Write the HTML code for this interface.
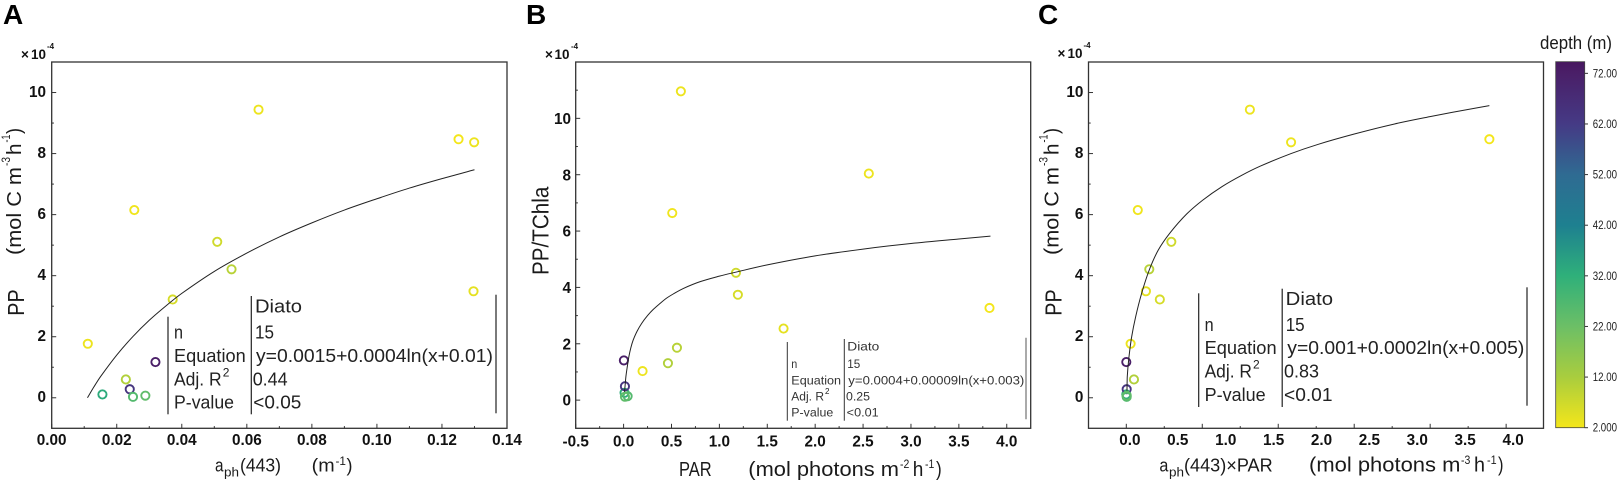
<!DOCTYPE html>
<html>
<head>
<meta charset="utf-8">
<title>Diato PP regressions</title>
<style>
html,body{margin:0;padding:0;background:#fff;}
svg{display:block;}
text{font-family:"Liberation Sans",sans-serif;fill:#111;}
.tick{font-weight:bold;font-size:15.3px;}
.panel{font-weight:bold;font-size:28px;fill:#000;}
.tb{font-size:18px;fill:#222;}
.tbs{font-size:12.3px;fill:#333;}
.t{font-size:20.5px;fill:#1a1a1a;}
.sup{font-size:12px;fill:#1a1a1a;}
.mul{font-weight:bold;font-size:13.5px;}
.mulsup{font-size:8px;font-weight:bold;}
.cb{font-size:12px;fill:#222;}
</style>
</head>
<body>
<svg id="chart" xmlns="http://www.w3.org/2000/svg" width="1617" height="481" viewBox="0 0 1617 481">
<rect x="0" y="0" width="1617" height="481" fill="#fff"/>
<defs id="defs"></defs>

<text class="panel" x="3" y="24">A</text>
<text class="panel" x="526" y="24">B</text>
<text class="panel" x="1038" y="24">C</text>

<g>
<text class="mul" x="21" y="59">×</text><text class="mul" x="31" y="59" textLength="15" lengthAdjust="spacingAndGlyphs">10</text><text class="mulsup" x="47" y="49">-4</text>
</g>
<g>
<text class="mul" x="545" y="59">×</text><text class="mul" x="554.5" y="59" textLength="15" lengthAdjust="spacingAndGlyphs">10</text><text class="mulsup" x="571" y="49">-4</text>
</g>
<g>
<text class="mul" x="1057.5" y="58">×</text><text class="mul" x="1067.5" y="58" textLength="15" lengthAdjust="spacingAndGlyphs">10</text><text class="mulsup" x="1083.5" y="48">-4</text>
</g>

<g transform="translate(0,0) rotate(-90)">
<text class="t" style="font-size:23px" x="-315.7" y="24" textLength="26.4" lengthAdjust="spacingAndGlyphs">PP</text>
<text class="t" x="-255" y="21" textLength="88" lengthAdjust="spacingAndGlyphs">(mol C m</text>
<text class="sup" x="-166" y="10" textLength="9" lengthAdjust="spacingAndGlyphs">-3</text>
<text class="t" x="-155" y="21" textLength="11.5" lengthAdjust="spacingAndGlyphs">h</text>
<text class="sup" x="-142.5" y="10" textLength="8" lengthAdjust="spacingAndGlyphs">-1</text>
<text class="t" x="-134" y="21" textLength="6" lengthAdjust="spacingAndGlyphs">)</text>
</g>
<g transform="rotate(-90)">
<text class="t" style="font-size:23px" x="-275" y="548.3" textLength="88.3" lengthAdjust="spacingAndGlyphs">PP/TChla</text>
</g>
<g transform="translate(1037.5,0) rotate(-90)">
<text class="t" style="font-size:23px" x="-315.7" y="24" textLength="26.4" lengthAdjust="spacingAndGlyphs">PP</text>
<text class="t" x="-255" y="21" textLength="88" lengthAdjust="spacingAndGlyphs">(mol C m</text>
<text class="sup" x="-166" y="10" textLength="9" lengthAdjust="spacingAndGlyphs">-3</text>
<text class="t" x="-155" y="21" textLength="11.5" lengthAdjust="spacingAndGlyphs">h</text>
<text class="sup" x="-142.5" y="10" textLength="8" lengthAdjust="spacingAndGlyphs">-1</text>
<text class="t" x="-134" y="21" textLength="6" lengthAdjust="spacingAndGlyphs">)</text>
</g>

<g>
<text class="t" style="font-size:18.5px" x="215" y="471.7" textLength="8.5" lengthAdjust="spacingAndGlyphs">a</text>
<text class="sup" style="font-size:13px" x="224" y="476.7" textLength="15" lengthAdjust="spacingAndGlyphs">ph</text>
<text class="t" style="font-size:18.5px" x="240" y="471.7" textLength="41" lengthAdjust="spacingAndGlyphs">(443)</text>
<text class="t" style="font-size:18.5px" x="311.7" y="471.7" textLength="23" lengthAdjust="spacingAndGlyphs">(m</text>
<text class="sup" x="335.5" y="465" textLength="10.5" lengthAdjust="spacingAndGlyphs">-1</text>
<text class="t" style="font-size:18.5px" x="346.5" y="471.7" textLength="6" lengthAdjust="spacingAndGlyphs">)</text>
</g>
<g>
<text class="t" x="679" y="476" textLength="32.7" lengthAdjust="spacingAndGlyphs">PAR</text>
<text class="t" x="748.3" y="476" textLength="150.7" lengthAdjust="spacingAndGlyphs">(mol photons m</text>
<text class="sup" x="900" y="468" textLength="9.3" lengthAdjust="spacingAndGlyphs">-2</text>
<text class="t" x="912.7" y="476" textLength="10.6" lengthAdjust="spacingAndGlyphs">h</text>
<text class="sup" x="925" y="468" textLength="9.3" lengthAdjust="spacingAndGlyphs">-1</text>
<text class="t" x="936" y="476" textLength="5.7" lengthAdjust="spacingAndGlyphs">)</text>
</g>
<g>
<text class="t" style="font-size:18.5px" x="1159.4" y="471.7" textLength="9" lengthAdjust="spacingAndGlyphs">a</text>
<text class="sup" style="font-size:13px" x="1169" y="476.7" textLength="15" lengthAdjust="spacingAndGlyphs">ph</text>
<text class="t" style="font-size:18.5px" x="1184" y="471.7" textLength="88.7" lengthAdjust="spacingAndGlyphs">(443)×PAR</text>
<text class="t" x="1309" y="471.7" textLength="151.4" lengthAdjust="spacingAndGlyphs">(mol photons m</text>
<text class="sup" x="1461" y="464" textLength="9.3" lengthAdjust="spacingAndGlyphs">-3</text>
<text class="t" x="1474" y="471.7" textLength="11" lengthAdjust="spacingAndGlyphs">h</text>
<text class="sup" x="1487" y="464" textLength="9.6" lengthAdjust="spacingAndGlyphs">-1</text>
<text class="t" x="1498" y="471.7" textLength="5.5" lengthAdjust="spacingAndGlyphs">)</text>
</g>

<g id="plots"></g>

<g stroke-linecap="butt">
<line x1="168" y1="316.7" x2="168" y2="414.3" stroke="#222" stroke-width="1.2"/>
<line x1="251.3" y1="296" x2="251.3" y2="414.3" stroke="#222" stroke-width="1.2"/>
<line x1="496" y1="294.7" x2="496" y2="413.3" stroke="#222" stroke-width="1.2"/>
<text class="tb" x="255" y="312.3" textLength="47" lengthAdjust="spacingAndGlyphs">Diato</text>
<text class="tb" x="174" y="338.5" textLength="9" lengthAdjust="spacingAndGlyphs">n</text>
<text class="tb" x="255" y="338.7" textLength="19" lengthAdjust="spacingAndGlyphs">15</text>
<text class="tb" x="174" y="362" textLength="71.7" lengthAdjust="spacingAndGlyphs">Equation</text>
<text class="tb" x="256" y="362" textLength="237" lengthAdjust="spacingAndGlyphs">y=0.0015+0.0004ln(x+0.01)</text>
<text class="tb" x="174" y="385.3" textLength="47.7" lengthAdjust="spacingAndGlyphs">Adj. R</text>
<text class="sup" x="222.7" y="376.7">2</text>
<text class="tb" x="252.7" y="385.3" textLength="35" lengthAdjust="spacingAndGlyphs">0.44</text>
<text class="tb" x="174" y="408.7" textLength="60" lengthAdjust="spacingAndGlyphs">P-value</text>
<text class="tb" x="253.3" y="408.7" textLength="48" lengthAdjust="spacingAndGlyphs">&lt;0.05</text>
</g>
<g>
<line x1="787.3" y1="342" x2="787.3" y2="420.7" stroke="#333" stroke-width="1"/>
<line x1="844.3" y1="339" x2="844.3" y2="420.7" stroke="#333" stroke-width="1"/>
<line x1="1026" y1="337.7" x2="1026" y2="419.3" stroke="#555" stroke-width="1"/>
<text class="tbs" x="847.3" y="350.7" textLength="32" lengthAdjust="spacingAndGlyphs">Diato</text>
<text class="tbs" x="791.3" y="368" textLength="6" lengthAdjust="spacingAndGlyphs">n</text>
<text class="tbs" x="847.3" y="368" textLength="13" lengthAdjust="spacingAndGlyphs">15</text>
<text class="tbs" x="791.3" y="384.3" textLength="49.7" lengthAdjust="spacingAndGlyphs">Equation</text>
<text class="tbs" x="848.3" y="384.3" textLength="176" lengthAdjust="spacingAndGlyphs">y=0.0004+0.00009ln(x+0.003)</text>
<text class="tbs" x="791.3" y="400.7" textLength="32.7" lengthAdjust="spacingAndGlyphs">Adj. R</text>
<text class="sup" style="font-size:8px" x="825" y="394">2</text>
<text class="tbs" x="846" y="400.7" textLength="24" lengthAdjust="spacingAndGlyphs">0.25</text>
<text class="tbs" x="791.3" y="416.7" textLength="42" lengthAdjust="spacingAndGlyphs">P-value</text>
<text class="tbs" x="846.7" y="416.7" textLength="32" lengthAdjust="spacingAndGlyphs">&lt;0.01</text>
</g>
<g>
<line x1="1198.7" y1="293.3" x2="1198.7" y2="407" stroke="#222" stroke-width="1.2"/>
<line x1="1282.2" y1="288.7" x2="1282.2" y2="407" stroke="#222" stroke-width="1.2"/>
<line x1="1527" y1="287.3" x2="1527" y2="405.7" stroke="#222" stroke-width="1.2"/>
<text class="tb" x="1285.7" y="305" textLength="47.3" lengthAdjust="spacingAndGlyphs">Diato</text>
<text class="tb" x="1204.6" y="331" textLength="9" lengthAdjust="spacingAndGlyphs">n</text>
<text class="tb" x="1285.7" y="331" textLength="19" lengthAdjust="spacingAndGlyphs">15</text>
<text class="tb" x="1204.6" y="354" textLength="72" lengthAdjust="spacingAndGlyphs">Equation</text>
<text class="tb" x="1287.3" y="354" textLength="237" lengthAdjust="spacingAndGlyphs">y=0.001+0.0002ln(x+0.005)</text>
<text class="tb" x="1204.6" y="377.7" textLength="47.3" lengthAdjust="spacingAndGlyphs">Adj. R</text>
<text class="sup" x="1253" y="368.3">2</text>
<text class="tb" x="1284" y="377.7" textLength="35" lengthAdjust="spacingAndGlyphs">0.83</text>
<text class="tb" x="1204.6" y="401" textLength="61" lengthAdjust="spacingAndGlyphs">P-value</text>
<text class="tb" x="1284" y="401" textLength="48.5" lengthAdjust="spacingAndGlyphs">&lt;0.01</text>
</g>

<text class="t" style="font-size:18.5px" x="1540" y="49" textLength="72" lengthAdjust="spacingAndGlyphs">depth (m)</text>
<g id="colorbar"></g>
</svg>

<script>
// Depth of each of the 15 samples (shared by all panels)
const depths = [3, 33, 11, 64, 26, 2.5, 24, 72, 6, 7, 10, 3, 2, 3, 4];

// Panel A
const aX = [0.0111, 0.0156, 0.0228, 0.024, 0.025, 0.0254, 0.0288, 0.0319, 0.0372, 0.0509, 0.0553, 0.0636, 0.1251, 0.1299, 0.1297];
const aY = [1.77, 0.11, 0.60, 0.28, 0.03, 6.15, 0.07, 1.17, 3.22, 5.11, 4.21, 9.44, 8.47, 8.37, 3.49];
const aCurveX = [0.011, 0.013, 0.015, 0.02, 0.025, 0.03, 0.035, 0.04, 0.05, 0.06, 0.07, 0.08, 0.09, 0.10, 0.11, 0.12, 0.13];
const aCurveY = [0, 0.36, 0.69, 1.40, 2.01, 2.54, 3.00, 3.42, 4.14, 4.74, 5.27, 5.73, 6.15, 6.52, 6.87, 7.18, 7.47];
const aXTicks = ["0.00", "0.02", "0.04", "0.06", "0.08", "0.10", "0.12", "0.14"];
const aXMinor = [0.01, 0.03, 0.05, 0.07, 0.09, 0.11, 0.13];
const aYTicks = ["0", "2", "4", "6", "8", "10"];
const aYMinor = [1, 3, 5, 7, 9];

// Panel B
const bX = [0.198, 0.01, 0.463, 0.014, 0.042, 0.508, 0.014, 0.003, 1.193, 1.173, 0.557, 0.598, 3.82, 2.56, 1.67];
const bY = [1.03, 0.26, 1.31, 0.49, 0.14, 6.64, 0.12, 1.41, 3.74, 4.52, 1.86, 10.96, 3.27, 8.04, 2.54];
const bCurveX = [0.01, 0.024, 0.04, 0.055, 0.075, 0.10, 0.14, 0.188, 0.25, 0.31, 0.38, 0.449, 0.53, 0.622, 0.796, 1.0, 1.17, 1.5, 2.0, 2.5, 3.0, 3.5, 3.83];
const bCurveY = [0.29, 0.83, 1.22, 1.54, 1.85, 2.13, 2.44, 2.72, 3.0, 3.22, 3.43, 3.62, 3.79, 3.96, 4.20, 4.40, 4.54, 4.80, 5.12, 5.36, 5.56, 5.72, 5.82];
const bXTicks = ["-0.5", "0.0", "0.5", "1.0", "1.5", "2.0", "2.5", "3.0", "3.5", "4.0"];
const bXMinor = [-0.25, 0.25, 0.75, 1.25, 1.75, 2.25, 2.75, 3.25, 3.75];
const bYTicks = ["0", "2", "4", "6", "8", "10"];
const bYMinor = [1, 3, 5, 7, 9, 11];

// Panel C (tick marks do not line up with the printed labels in the source figure)
const cX = [0.045, 0, 0.08, 0.004, 0.004, 0.12, 0.004, 0, 0.35, 0.47, 0.24, 1.29, 3.79, 1.72, 0.205];
const cY = [1.77, 0.11, 0.60, 0.28, 0.03, 6.15, 0.07, 1.17, 3.22, 5.11, 4.21, 9.44, 8.47, 8.37, 3.49];
const cCurveX = [0.007, 0.01, 0.028, 0.056, 0.098, 0.16, 0.24, 0.334, 0.456, 0.63, 0.80, 1.0, 1.2, 1.4, 1.72, 2.0, 2.38, 2.8, 3.17, 3.4, 3.79];
const cCurveY = [0.23, 0.69, 1.34, 2.0, 2.66, 3.42, 4.19, 4.84, 5.40, 6.02, 6.48, 6.92, 7.28, 7.59, 8.0, 8.30, 8.64, 8.97, 9.21, 9.35, 9.57];
const cXTicks = ["0.0", "0.5", "1.0", "1.5", "2.0", "2.5", "3.0", "3.5", "4.0"];
const cXMajor = [0, 0.793, 1.586, 2.379, 3.172, 3.965];
const cXMinor = [0.3965, 1.1895, 1.9825, 2.7755, 3.5685];
const cYTicks = ["0", "2", "4", "6", "8", "10"];
const cYMinor = [1, 3, 5, 7, 9];

// Colour bar
const cbTicks = ["2.000", "12.00", "22.00", "32.00", "42.00", "52.00", "62.00", "72.00"];
const cbStops = [2, 12, 22, 32, 42, 52, 62, 72, 74.3];
const cbColours = ["#f4e61a", "#a9cd3e", "#6cbf66", "#2fb07a", "#1e8090", "#2f6b92", "#453a85", "#4a1f68", "#47175f"];

const NS = "http://www.w3.org/2000/svg";
const plots = document.getElementById("plots");

function scale(d0, d1, r0, r1) {
  return v => r0 + (v - d0) * (r1 - r0) / (d1 - d0);
}
function make(tag, attrs, parent) {
  const el = document.createElementNS(NS, tag);
  for (const k in attrs) el.setAttribute(k, attrs[k]);
  parent.appendChild(el);
  return el;
}
function depthColour(d) {
  let i = 0;
  while (i < cbStops.length - 2 && d > cbStops[i + 1]) i++;
  const t = Math.max(0, Math.min(1, (d - cbStops[i]) / (cbStops[i + 1] - cbStops[i])));
  const a = cbColours[i], b = cbColours[i + 1];
  let out = "rgb(";
  for (let c = 0; c < 3; c++) {
    const p = parseInt(a.substr(1 + c * 2, 2), 16), q = parseInt(b.substr(1 + c * 2, 2), 16);
    out += Math.round(p + (q - p) * t) + (c < 2 ? "," : ")");
  }
  return out;
}
// Smooth cubic path through the read curve values
function smoothPath(px, py) {
  const n = px.length;
  const slope = i => {
    const a = Math.max(0, i - 1), b = Math.min(n - 1, i + 1);
    return (py[b] - py[a]) / (px[b] - px[a]);
  };
  let d = "M" + px[0].toFixed(2) + " " + py[0].toFixed(2);
  for (let i = 0; i < n - 1; i++) {
    const h = (px[i + 1] - px[i]) / 3;
    d += " C" + (px[i] + h).toFixed(2) + " " + (py[i] + slope(i) * h).toFixed(2) +
         " " + (px[i + 1] - h).toFixed(2) + " " + (py[i + 1] - slope(i + 1) * h).toFixed(2) +
         " " + px[i + 1].toFixed(2) + " " + py[i + 1].toFixed(2);
  }
  return d;
}

function drawPanel(p) {
  const g = make("g", {}, plots);
  
  
  const left = p.x(p.xDomain[0]), right = p.x(p.xDomain[1]);
  const top = p.y(p.yDomain[1]), bottom = p.y(p.yDomain[0]);

  const frame = make("rect", {x: left, y: top, width: right - left, height: bottom - top, fill: "none", stroke: "#333", "stroke-width": 1.3}, g);
  
  

  p.xMajor.forEach(v => {
    const t = make("line", {x1: p.x(v), x2: p.x(v), y1: bottom, y2: bottom - 4.5, stroke: "#333", "stroke-width": 1}, g);
    
    
  });
  p.xMinor.forEach(v => {
    const t = make("line", {x1: p.x(v), x2: p.x(v), y1: bottom, y2: bottom - 2.2, stroke: "#333", "stroke-width": 1}, g);
    
    
  });
  p.xLabels.forEach(s => {
    const t = make("text", {x: p.x(parseFloat(s)) + p.xLabelShift, y: p.xLabelY, "text-anchor": "middle", class: "tick"}, g);
    t.textContent = s;
    
    
  });
  p.yLabels.forEach(s => {
    const v = parseFloat(s);
    const m = make("line", {x1: left, x2: left + 4.5, y1: p.y(v), y2: p.y(v), stroke: "#333", "stroke-width": 1}, g);
    
    
    const t = make("text", {x: p.yLabelX, y: p.y(v) + p.yLabelDy, "text-anchor": "end", class: "tick"}, g);
    t.textContent = s;
    
    
  });
  p.yMinor.forEach(v => {
    const t = make("line", {x1: left, x2: left + 2.2, y1: p.y(v), y2: p.y(v), stroke: "#333", "stroke-width": 1}, g);
    
    
  });

  p.px.forEach((v, i) => {
    const c = make("circle", {cx: p.x(v), cy: p.y(p.py[i]), r: 4.1, fill: "none", stroke: depthColour(depths[i]), "stroke-width": 1.9}, g);
    
    
  });

  const line = make("path", {d: smoothPath(p.curveX.map(p.x), p.curveY.map(p.y)), fill: "none", stroke: "#222", "stroke-width": 1}, g);
  
  
}

drawPanel({
  id: "a", xDomain: [0, 0.14], yDomain: [-1, 11],
  x: scale(0, 0.14, 51.7, 507), y: scale(-1, 11, 428.3, 62),
  xMajor: aXTicks.map(parseFloat), xMinor: aXMinor, xLabels: aXTicks, xLabelShift: 0, xLabelY: 445,
  yLabels: aYTicks, yMinor: aYMinor, yLabelX: 46, yLabelDy: 4.3,
  px: aX, py: aY, curveX: aCurveX, curveY: aCurveY
});
drawPanel({
  id: "b", xDomain: [-0.5, 4.25], yDomain: [-1, 12],
  x: scale(-0.5, 4.25, 575.7, 1030.7), y: scale(-1, 12, 428.3, 62),
  xMajor: bXTicks.map(parseFloat), xMinor: bXMinor, xLabels: bXTicks, xLabelShift: 0, xLabelY: 446.7,
  yLabels: bYTicks, yMinor: bYMinor, yLabelX: 571, yLabelDy: 5.6,
  px: bX, py: bY, curveX: bCurveX, curveY: bCurveY
});
drawPanel({
  id: "c", xDomain: [-0.3946, 4.355], yDomain: [-1, 11],
  x: scale(-0.3946, 4.355, 1088.5, 1543.5), y: scale(-1, 11, 428.3, 62),
  xMajor: cXMajor, xMinor: cXMinor, xLabels: cXTicks, xLabelShift: 3.6, xLabelY: 445,
  yLabels: cYTicks, yMinor: cYMinor, yLabelX: 1083.4, yLabelDy: 4.3,
  px: cX, py: cY, curveX: cCurveX, curveY: cCurveY
});

// Colour bar
const cb = document.getElementById("colorbar");
const cbY = scale(2, 74.3, 427.7, 61.7);
const grad = make("linearGradient", {id: "cbGrad", x1: 0, y1: 1, x2: 0, y2: 0}, document.getElementById("defs"));
cbStops.forEach((d, i) => {
  make("stop", {offset: (d - 2) / (74.3 - 2), "stop-color": cbColours[i]}, grad);
});
const bar = make("rect", {x: 1555.7, y: cbY(74.3), width: 29, height: cbY(2) - cbY(74.3), fill: "url(#cbGrad)", stroke: "#444", "stroke-width": 0.8}, cb);


cbTicks.forEach(s => {
  const v = parseFloat(s);
  const m = make("line", {x1: 1584.7, x2: 1588, y1: cbY(v), y2: cbY(v), stroke: "#333", "stroke-width": 1}, cb);
  
  
  const t = make("text", {x: 1592.7, y: cbY(v) + 4, class: "cb", textLength: 24.3, lengthAdjust: "spacingAndGlyphs"}, cb);
  t.textContent = s;
  
  
});
</script>
</body>
</html>
